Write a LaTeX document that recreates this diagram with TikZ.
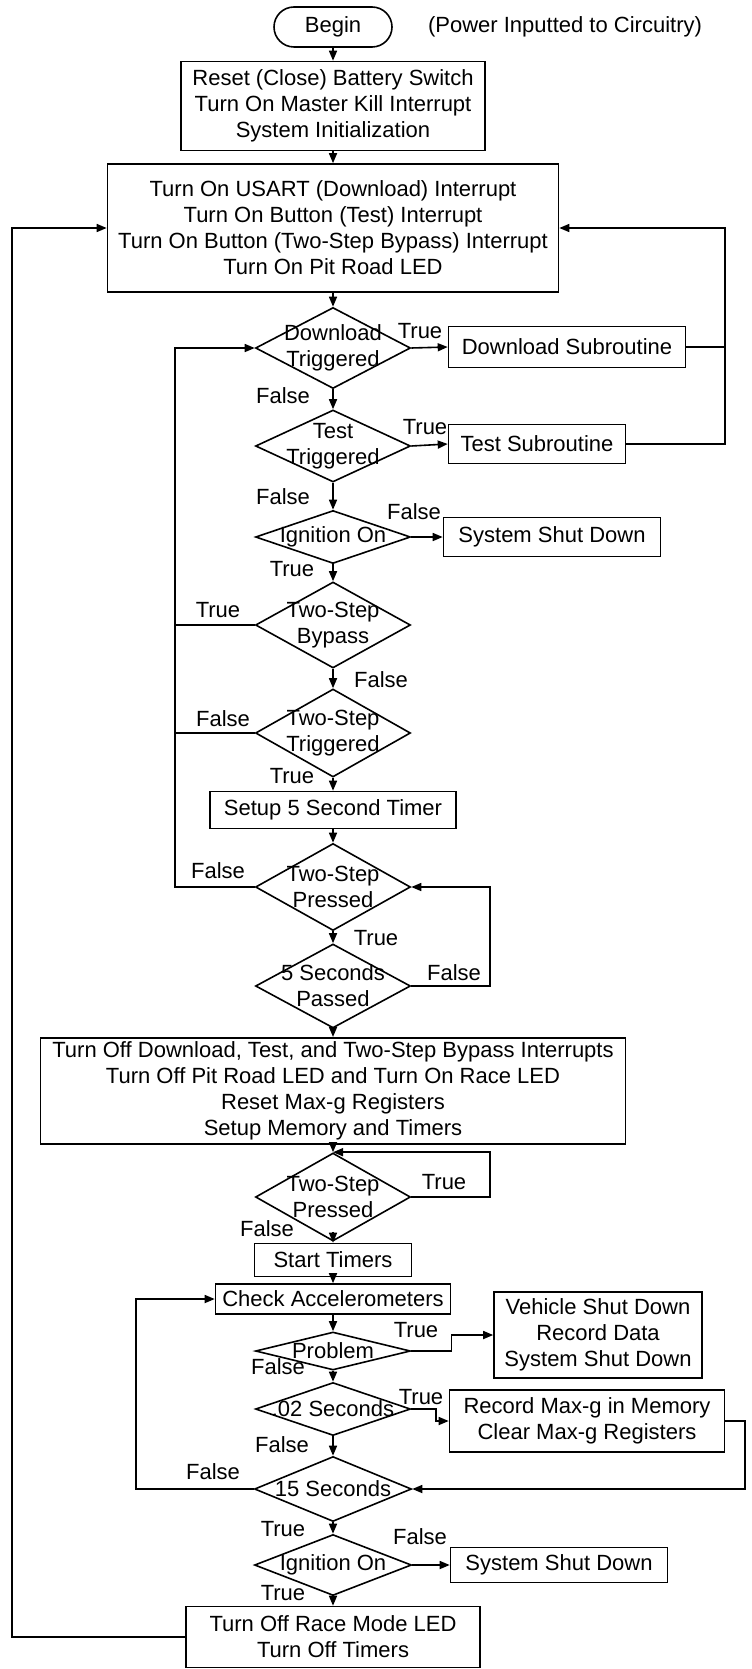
\documentclass[tikz,border=0pt]{standalone}
\usepackage{fontspec}
\setmainfont{Liberation Sans}
\usetikzlibrary{shapes,arrows.meta}
\newcommand{\dline}[1]{\makebox[0pt]{#1}}
\tikzset{
  block/.style={draw, rectangle, align=center, inner sep=2pt},
  decision/.style={draw, diamond, align=center, inner sep=0pt, minimum width=77.5pt},
  flow/.style={-{Triangle[length=5pt,width=4pt]}},
}

\begin{document}
\begin{tikzpicture}[x=0.5pt, y=-0.5pt, line width=0.8pt, font=\fontsize{11}{13}\selectfont]
\useasboundingbox (0,0) rectangle (751,1669);
\node[block, rounded corners=10pt, minimum width=59pt, minimum height=20pt] (begin) at (333,27) {Begin};
\node (note) at (565,27) {(Power Inputted to Circuitry)};
\node[block, minimum width=152pt, minimum height=44.5pt] (init) at (333,106) {Reset (Close) Battery Switch\\Turn On Master Kill Interrupt\\System Initialization};
\node[block, minimum width=225.5pt, minimum height=64pt] (intr) at (333,228) {Turn On USART (Download) Interrupt\\Turn On Button (Test) Interrupt\\Turn On Button (Two-Step Bypass) Interrupt\\Turn On Pit Road LED};
\node[decision, minimum height=40.5pt] (dl) at (333,348) {\dline{Download}\\\dline{Triggered}};
\node[block, minimum width=118.5pt, minimum height=20.5pt] (dlsub) at (567,347) {Download Subroutine};
\node[decision, minimum height=36pt] (test) at (333,446) {\dline{Test}\\\dline{Triggered}};
\node[block, minimum width=88.5pt, minimum height=19.5pt] (testsub) at (537,444) {Test Subroutine};
\node[decision, minimum height=26.5pt] (ign) at (333,537) {\dline{Ignition On}};
\node[block, minimum width=108.5pt, minimum height=19.5pt] (shut) at (552,537) {System Shut Down};
\node[decision, minimum height=43pt] (byp) at (333,625) {\dline{Two-Step}\\\dline{Bypass}};
\node[decision, minimum height=44pt] (trig) at (333,733) {\dline{Two-Step}\\\dline{Triggered}};
\node[block, minimum width=123pt, minimum height=18.5pt] (timer) at (333,810) {Setup 5 Second Timer};
\node[decision, minimum height=43.5pt] (press) at (333,887) {\dline{Two-Step}\\\dline{Pressed}};
\node[decision, minimum height=42pt] (pass) at (333,986) {\dline{5 Seconds}\\\dline{Passed}};
\node[block, minimum width=292.5pt, minimum height=52pt] (race) at (333,1091) {Turn Off Download, Test, and Two-Step Bypass Interrupts\\Turn Off Pit Road LED and Turn On Race LED\\Reset Max-g Registers\\Setup Memory and Timers};
\node[decision, minimum height=44pt] (press2) at (333,1197) {\dline{Two-Step}\\\dline{Pressed}};
\node[block, minimum width=78.5pt, minimum height=16.5pt] (start) at (333,1260) {Start Timers};
\node[block, minimum width=117.5pt, minimum height=15pt] (check) at (333,1299) {Check Accelerometers};
\node[decision, minimum height=19pt] (prob) at (333,1351) {\dline{Problem}};
\node[block, minimum width=104pt, minimum height=43pt] (veh) at (598,1335) {Vehicle Shut Down\\Record Data\\System Shut Down};
\node[decision, minimum height=26.5pt] (two) at (333,1409) {\dline{.02 Seconds}};
\node[block, minimum width=137.5pt, minimum height=31pt] (rec) at (587,1421) {Record Max-g in Memory\\Clear Max-g Registers};
\node[decision, minimum height=32.5pt, minimum width=78.5pt] (fift) at (333,1489) {\dline{15 Seconds}};
\node[decision, minimum height=30.5pt, minimum width=78.5pt] (ign2) at (333,1565) {\dline{Ignition On}};
\node[block, minimum width=108.5pt, minimum height=17.5pt] (shut2) at (559,1565) {System Shut Down};
\node[block, minimum width=147pt, minimum height=30.5pt] (off) at (333,1637) {Turn Off Race Mode LED\\Turn Off Timers};
\foreach \x/\y/\t [count=\i] in {420/331/True, 283/396/False, 425/427/True, 283/497/False, 414/512/False, 292/569/True,
    218/610/True, 381/680/False, 223/719/False, 292/776/True, 218/871/False, 376/938/True, 454/973/False,
    444/1182/True, 267/1229/False, 416/1330/True, 278/1367/False, 421/1397/True, 282/1445/False,
    213/1472/False, 283/1529/True, 420/1537/False, 283/1593/True} {
  \node (lab\i) at (\x,\y) {\t};
}
\foreach \a/\b in {begin/init, init/intr, intr/dl, dl/test, test/ign, ign/byp, byp/trig, trig/timer, timer/press,
    press/pass, pass/race, race/press2, check/prob, prob/two, two/fift, fift/ign2, ign2/off} {
  \draw[flow] (\a.south) -- (\b.north);
}
\draw[flow] ([yshift=5pt]press2.south) -- (start.north);
\draw[flow] ([yshift=2pt]start.south) -- (check.north);
\draw[flow] (dl.east) -- (dlsub.west);
\draw[flow] (test.east) -- (testsub.west);
\draw[flow] (ign.east) -- (shut.west);
\draw[flow] (ign2.east) -- (shut2.west);
\coordinate (rside) at (725,0);
\coordinate (lside) at (175,0);
\coordinate (pside) at (490,0);
\coordinate (tside) at (436,0);
\coordinate (eside) at (745,0);
\coordinate (cside) at (136,0);
\coordinate (oside) at (12,0);
\draw[flow] (dlsub.east) -| (rside |- intr.east) -- (intr.east);
\draw (testsub.east) -| (rside |- dlsub.east);
\draw[flow] (press.west) -| (lside |- dl.west) -- (dl.west);
\draw (byp.west) -- (lside |- byp.west);
\draw (trig.west) -- (lside |- trig.west);
\draw[flow] (pass.east) -| (pside |- press.east) -- (press.east);
\draw[flow] (press2.east) -| (pside |- press2.north) -- (press2.north);
\draw[flow] (prob.east) -| (check.east |- veh.west) -- (veh.west);
\draw[flow] (two.east) -| (tside |- rec.west) -- (rec.west);
\draw[flow] (rec.east) -| (eside |- fift.east) -- (fift.east);
\draw[flow] (fift.west) -| (cside |- check.west) -- (check.west);
\draw[flow] (off.west) -| (oside |- intr.west) -- (intr.west);
\end{tikzpicture}
\end{document}
